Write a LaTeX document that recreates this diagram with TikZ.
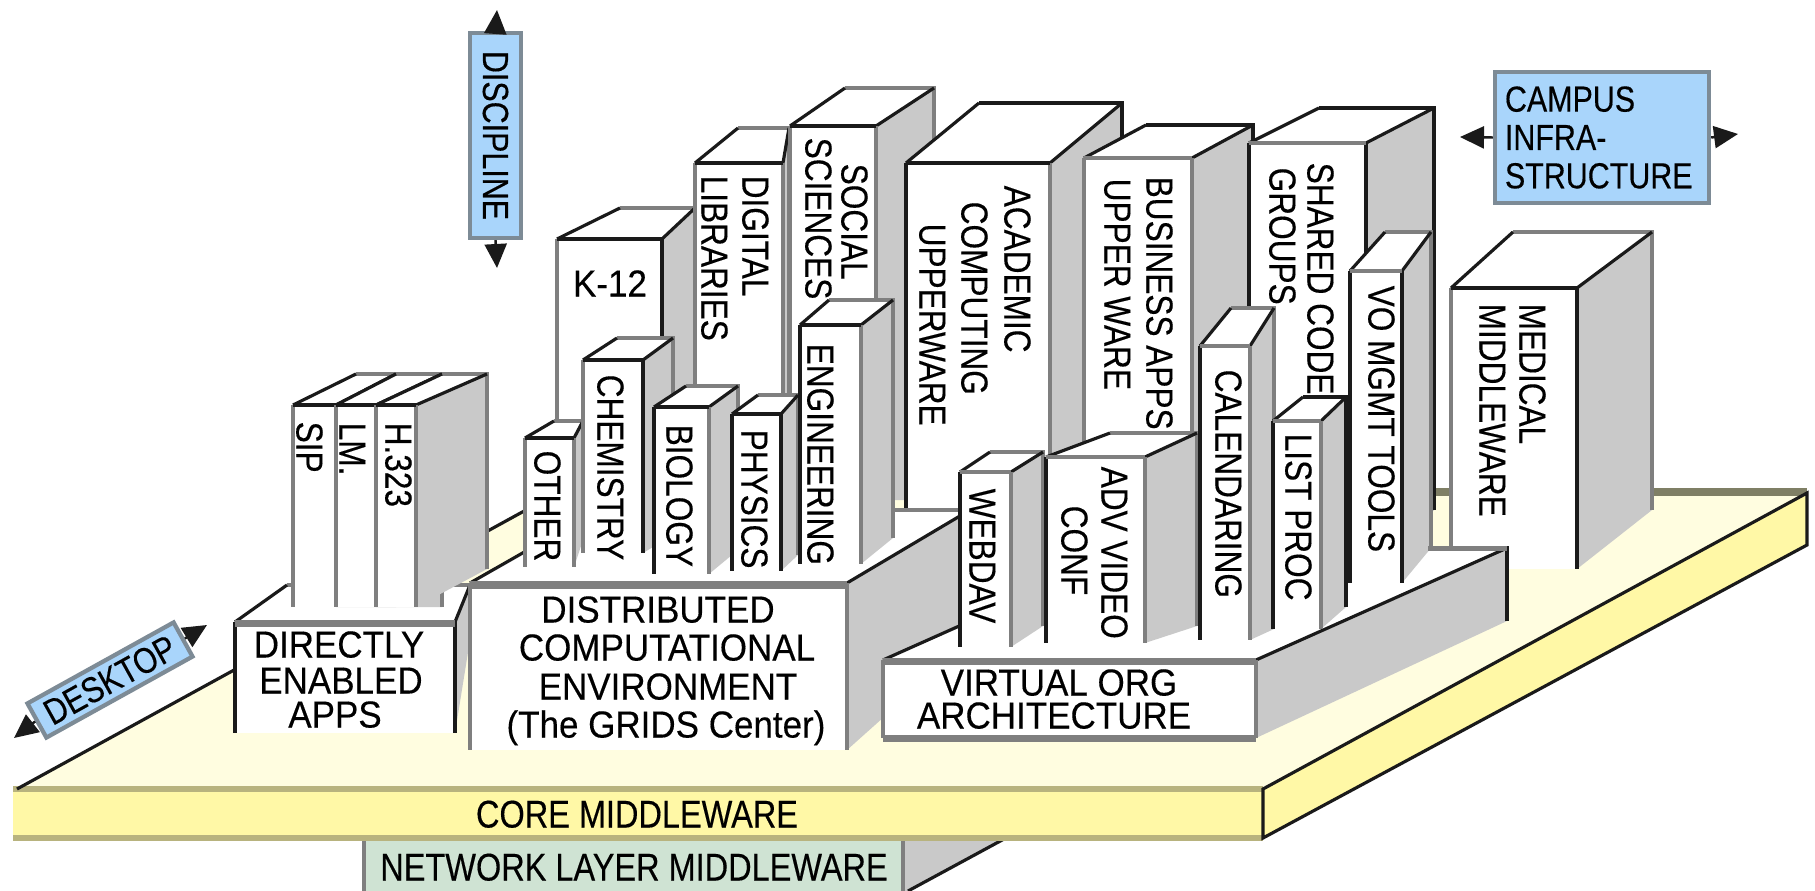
\documentclass[tikz,border=0pt]{standalone}
\usepackage{fontspec}
\setmainfont[FakeStretch=0.84,FakeBold=0.3]{Liberation Sans}
\newfontfamily\platefont[FakeStretch=0.93,FakeBold=0.3]{Liberation Sans}
\usetikzlibrary{arrows.meta}
\definecolor{ink}{HTML}{1A1A1A}
\definecolor{mid}{HTML}{7F7F7F}
\definecolor{sidegrey}{HTML}{C9C9C9}
\definecolor{tagblue}{HTML}{A9D5FB}
\definecolor{tagedge}{HTML}{7D8B96}
\definecolor{slabtop}{HTML}{FFFDE0}
\definecolor{slabface}{HTML}{FFF8A6}
\definecolor{slabedge}{HTML}{B8B37E}
\definecolor{netgreen}{HTML}{CFE3D3}
\tikzset{
    %Define standard arrow tip
    >={Stealth[inset=0pt,length=2.4mm,width=2.2mm]},
    %Define style for edges of the boxes
    edge/.style={line width=1.1pt},
    diag/.style={ink, line width=.9pt},
    band/.style={fill=mid, draw=none},
    %Define style for text on the spine of a box
    spine/.style={
           rotate=-90,
           anchor=west,
           inner sep=0pt,
           text height=7.7pt,
           text depth=0pt,
           font=\fontsize{10.7}{12}\selectfont},
    %Define style for text on a front face
    plate/.style={
           inner sep=0pt,
           text height=7.7pt,
           text depth=0pt,
           font=\platefont\fontsize{10.7}{12}\selectfont},
    %Define style for text on the two layers
    layer/.style={
           inner sep=0pt,
           text height=7.7pt,
           text depth=0pt,
           font=\fontsize{11}{12}\selectfont},
    %Define style for blue labels
    bluetag/.style={
           rectangle,
           fill=tagblue,
           draw=tagedge,
           line width=1.2pt,
           inner sep=0pt,
           font=\fontsize{10.3}{10.9}\selectfont},
    % Define arrow style
    tagarrow/.style={
           ->,
           ink,
           line width=.7pt},
}
\begin{document}
\begin{tikzpicture}[x=0.01cm,y=-0.01cm]
  \useasboundingbox (0,0) rectangle (1815,891);
  % network layer
  \fill[netgreen] (364,839) rectangle (903,891);
  \fill[sidegrey] (903,839) -- (1004,839) -- (908,891) -- (903,891) -- cycle;
  \draw[diag] (1004,839) -- (908,891);
  \draw[mid,edge] (364,839) -- (364,891);
  \draw[mid,edge] (903,839) -- (903,891);
  % slab
  \fill[slabtop] (17,789) -- (557,493) -- (1807,493) -- (1263,789) -- cycle;
  \fill[slabface] (13,789) rectangle (1263,838);
  \fill[slabface] (1263,789) -- (1807,493) -- (1807,545) -- (1263,838) -- cycle;
  \draw[slabedge,line width=1.5pt] (13,789) -- (1263,789);
  \draw[slabedge,line width=1.5pt] (13,838) -- (1263,838);
  \draw[mid!80!olive,line width=2pt] (557,492) -- (1807,492);
  \draw[diag] (17,789) -- (557,493);
  \draw[diag] (1263,789) -- (1807,493) -- (1807,545) -- (1263,838) -- cycle;
  % boxes, back to front
  \foreach \xa/\xb/\yt/\yf/\xc/\xd/\yb/\ys/\cl/\cr/\ct/\cb in {
     557/662/239/520/620/695/208/520/mid/ink/ink/mid,
     695/783/163/500/738/789/128/500/mid/mid/ink/mid,
     790/876/126/500/845/934/88/500/mid/mid/ink/mid,
     906/1050/163/600/979/1122/103/600/ink/mid/ink/ink,
     1084/1192/158/600/1146/1253/125/600/mid/mid/mid/ink,
     1249/1366/143/590/1319/1434/108/510/ink/ink/mid/ink,
     1451/1577/288/569/1513/1652/232/510/mid/ink/ink/mid,
     235/455/622/733/287/470/585/640/ink/ink/mid/mid,
     293/336/405/607/356/396/374/607/mid/mid/ink/mid,
     336/376/405/607/396/442/374/607/mid/mid/ink/mid,
     376/416/405/607/442/487/374/569/mid/mid/ink/mid,
     470/847/583/750/598/970/510/640/mid/mid/mid/mid,
     525/574/438/567/554/583/421/540/mid/mid/ink/mid,
     583/643/360/553/617/673/338/535/mid/ink/ink/mid,
     654/709/407/574/686/738/386/550/ink/mid/ink/mid,
     732/781/414/571/758/798/395/555/ink/ink/ink/mid,
     800/861/325/564/829/893/300/538/ink/mid/ink/mid,
     883/1256/660/738/1134/1507/548/621/mid/mid/mid/ink,
     960/1011/472/647/990/1043/452/626/ink/mid/mid/mid,
     1046/1145/457/643/1110/1197/433/626/ink/mid/mid/mid,
     1200/1250/346/640/1231/1274/308/629/ink/mid/mid/mid,
     1273/1321/421/629/1303/1346/397/607/ink/mid/mid/ink,
     1350/1402/271/583/1385/1431/232/548/ink/ink/mid/mid}
  {
    \fill[sidegrey] (\xb,\yt) -- (\xd,\yb) -- (\xd,\ys) -- (\xb,\yf) -- cycle;
    \fill[white] (\xa,\yt) -- (\xc,\yb) -- (\xd,\yb) -- (\xb,\yt) -- cycle;
    \fill[white] (\xa,\yt) rectangle (\xb,\yf);
    \draw[\cb,edge] (\xc,\yb) -- (\xd,\yb) -- (\xd,\ys);
    \draw[diag] (\xa,\yt) -- (\xc,\yb);
    \draw[diag] (\xb,\yt) -- (\xd,\yb);
    \draw[\cl,edge] (\xa,\yt) -- (\xa,\yf);
    \draw[\cr,edge] (\xb,\yt) -- (\xb,\yf);
    \draw[\ct,edge] (\xa,\yt) -- (\xb,\yt);
  }
  % grey bands on the platforms
  \foreach \xa/\ya/\xb/\yb in {235/621/455/627, 470/582/847/589, 883/658/1256/665,
                               883/735/1256/742, 1428/546/1507/551}
    \fill[band] (\xa,\ya) rectangle (\xb,\yb);
  % spines
  \foreach \nm/\x/\y/\t in {
     sip/310/421/SIP, lm/353/422/LM., hthree/399/422/H.323,
     digital/756/175/DIGITAL, libraries/715/175/LIBRARIES,
     social/855/163/SOCIAL, sciences/819/137/SCIENCES,
     academic/1018/185/ACADEMIC, computing/975/201/COMPUTING, upperware/933/223/UPPERWARE,
     business/1160/176/BUSINESS APPS, upper/1118/178/UPPER WARE,
     shared/1321/162/SHARED CODE, groups/1283/167/GROUPS,
     medical/1533/303/MEDICAL, middleware/1493/303/MIDDLEWARE,
     vomgmt/1382/285/VO MGMT TOOLS, listproc/1299/433/LIST PROC,
     calendaring/1229/369/CALENDARING, webdav/983/488/WEBDAV,
     advvideo/1115/466/ADV VIDEO, conf/1075/505/CONF,
     engineering/821/343/ENGINEERING, physics/755/429/PHYSICS,
     biology/680/424/BIOLOGY, chemistry/611/374/CHEMISTRY, other/548/450/OTHER}
    \node[spine] (\nm) at (\x,\y) {\t};
  % front plates
  \foreach \nm/\x/\y/\t in {
     ktwelve/610/283/K-12,
     directly/339/644/DIRECTLY, enabled/341/680/ENABLED, apps/335/714/APPS,
     distributed/658/609/DISTRIBUTED, computational/667/647/COMPUTATIONAL,
     environment/668/686/ENVIRONMENT, grids/666/724/{(The GRIDS Center)},
     virtual/1059/682/VIRTUAL ORG, architecture/1054/715/ARCHITECTURE}
    \node[plate] (\nm) at (\x,\y) {\t};
  \node[layer] (core) at (637,814) {CORE MIDDLEWARE};
  \node[layer] (network) at (634,867) {NETWORK LAYER MIDDLEWARE};
  % blue labels
  \node[bluetag, rotate=-90, minimum width=2.05cm, minimum height=.51cm] (discipline) at (495.5,135.5) {DISCIPLINE};
  \node[bluetag, inner xsep=.1cm, minimum height=1.31cm, text width=1.94cm, align=left] (campus) at (1602,137.5) {CAMPUS\\INFRA-\\STRUCTURE};
  \node[bluetag, rotate=29, minimum width=1.67cm, minimum height=.39cm] (desktop) at (110,680) {DESKTOP};
  \coordinate (disctop) at (497,10);
  \coordinate (discbot) at (497,268);
  \coordinate (campleft) at (1460,137);
  \coordinate (campright) at (1738,134);
  \coordinate (deskup) at (207,625);
  \coordinate (deskdown) at (14,738);
  \draw[tagarrow] (discipline.west) -- (disctop);
  \draw[tagarrow] (discipline.east) -- (discbot);
  \draw[tagarrow] (campus.west) -- (campleft);
  \draw[tagarrow] (campus.east) -- (campright);
  \draw[tagarrow] (desktop.east) -- (deskup);
  \draw[tagarrow] (desktop.west) -- (deskdown);
\end{tikzpicture}
\end{document}
